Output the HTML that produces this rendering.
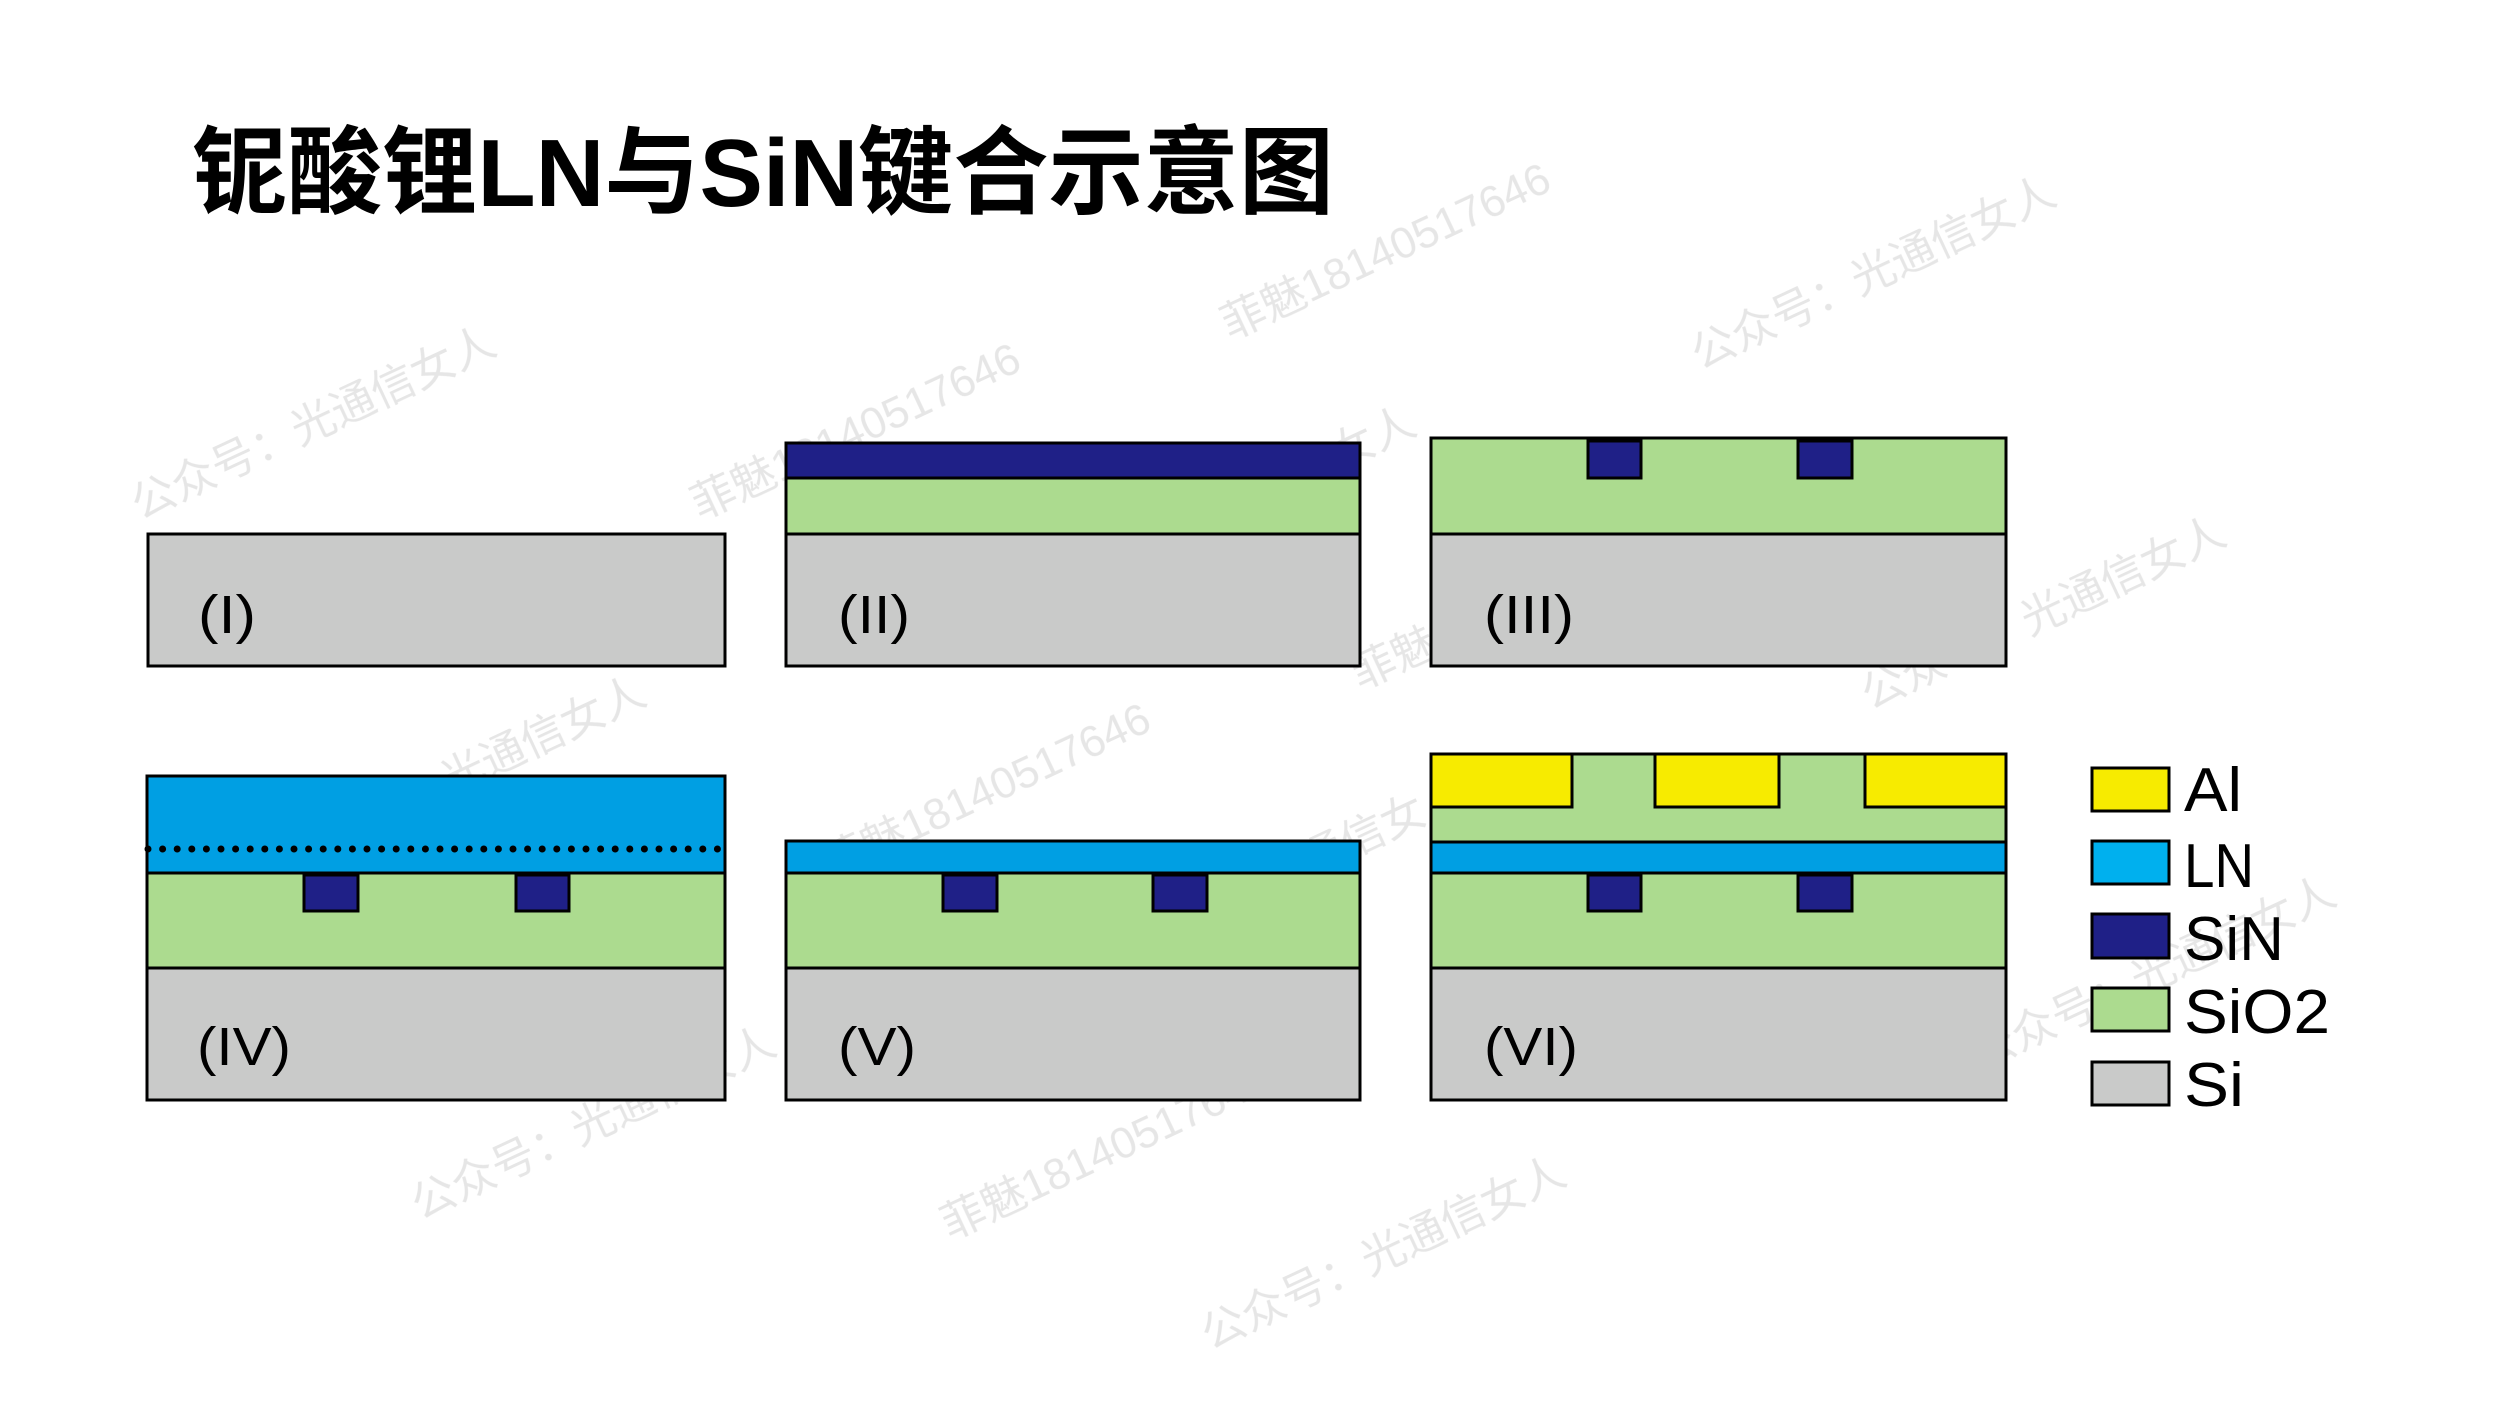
<!DOCTYPE html>
<html><head><meta charset="utf-8"><style>html,body{margin:0;padding:0;background:#fff}svg{display:block}</style></head>
<body>
<svg width="2500" height="1406" viewBox="0 0 2500 1406" xmlns="http://www.w3.org/2000/svg">
<g font-family="Liberation Sans, Noto Sans CJK SC, sans-serif" fill="#c8c8c8" opacity="0.45" font-size="44">
<text transform="translate(140,520) rotate(-25)">公众号：光通信女人</text>
<text transform="translate(700,520) rotate(-25)">菲魅18140517646</text>
<text transform="translate(1230,340) rotate(-25)">菲魅18140517646</text>
<text transform="translate(1700,370) rotate(-25)">公众号：光通信女人</text>
<text transform="translate(1060,600) rotate(-25)">公众号：光通信女人</text>
<text transform="translate(1360,690) rotate(-25)">菲魅18140517646</text>
<text transform="translate(1870,710) rotate(-25)">公众号：光通信女人</text>
<text transform="translate(290,870) rotate(-25)">公众号：光通信女人</text>
<text transform="translate(830,880) rotate(-25)">菲魅18140517646</text>
<text transform="translate(1110,970) rotate(-25)">公众号：光通信女人</text>
<text transform="translate(1480,1050) rotate(-25)">菲魅18140517646</text>
<text transform="translate(1980,1070) rotate(-25)">公众号：光通信女人</text>
<text transform="translate(420,1220) rotate(-25)">公众号：光通信女人</text>
<text transform="translate(950,1240) rotate(-25)">菲魅18140517646</text>
<text transform="translate(1210,1350) rotate(-25)">公众号：光通信女人</text>
</g>
<text x="192" y="206" font-family="Liberation Sans, Noto Sans CJK SC, sans-serif" font-weight="bold" font-size="96" textLength="1142" lengthAdjust="spacingAndGlyphs">铌酸锂LN与SiN键合示意图</text>
<g stroke="#000" stroke-width="3">
<rect x="148" y="534" width="577" height="132" fill="#c9cac9"/>
<rect x="786" y="478" width="574" height="56" fill="#acdb8f"/>
<rect x="786" y="534" width="574" height="132" fill="#c9cac9"/>
<rect x="786" y="443" width="574" height="35" fill="#1f2087"/>
<rect x="1431" y="438" width="575" height="96" fill="#acdb8f"/>
<rect x="1431" y="534" width="575" height="132" fill="#c9cac9"/>
<rect x="1588" y="441" width="53" height="37" fill="#1f2087"/>
<rect x="1798" y="441" width="54" height="37" fill="#1f2087"/>
<rect x="147" y="776" width="578" height="97" fill="#009fe3"/>
<rect x="147" y="873" width="578" height="95" fill="#acdb8f"/>
<rect x="147" y="968" width="578" height="132" fill="#c9cac9"/>
<rect x="304" y="875" width="54" height="36" fill="#1f2087"/>
<rect x="516" y="875" width="53" height="36" fill="#1f2087"/>
<rect x="786" y="841" width="574" height="32" fill="#009fe3"/>
<rect x="786" y="873" width="574" height="95" fill="#acdb8f"/>
<rect x="786" y="968" width="574" height="132" fill="#c9cac9"/>
<rect x="943" y="875" width="54" height="36" fill="#1f2087"/>
<rect x="1153" y="875" width="54" height="36" fill="#1f2087"/>
<rect x="1431" y="754" width="575" height="88" fill="#acdb8f"/>
<rect x="1431" y="842" width="575" height="31" fill="#009fe3"/>
<rect x="1431" y="873" width="575" height="95" fill="#acdb8f"/>
<rect x="1431" y="968" width="575" height="132" fill="#c9cac9"/>
<rect x="1588" y="875" width="53" height="36" fill="#1f2087"/>
<rect x="1798" y="875" width="54" height="36" fill="#1f2087"/>
<rect x="1431" y="754" width="141" height="53" fill="#f7eb00"/>
<rect x="1655" y="754" width="124" height="53" fill="#f7eb00"/>
<rect x="1865" y="754" width="141" height="53" fill="#f7eb00"/>
<rect x="2092" y="768" width="77" height="43" fill="#f7eb00"/>
<rect x="2092" y="841" width="77" height="43" fill="#00b0ee"/>
<rect x="2092" y="914" width="77" height="44" fill="#1f2087"/>
<rect x="2092" y="988" width="77" height="43" fill="#acdb8f"/>
<rect x="2092" y="1062" width="77" height="43" fill="#c9cac9"/>
</g>
<line x1="148" y1="849" x2="728" y2="849" stroke="#000" stroke-width="7" stroke-linecap="round" stroke-dasharray="0 14.6"/>
<g font-family="Liberation Sans, sans-serif" font-size="54" fill="#000">
<text x="198" y="633" textLength="58" lengthAdjust="spacingAndGlyphs">(I)</text>
<text x="838" y="633" textLength="72" lengthAdjust="spacingAndGlyphs">(II)</text>
<text x="1484" y="633" textLength="90" lengthAdjust="spacingAndGlyphs">(III)</text>
<text x="197" y="1065" textLength="94" lengthAdjust="spacingAndGlyphs">(IV)</text>
<text x="838" y="1065" textLength="78" lengthAdjust="spacingAndGlyphs">(V)</text>
<text x="1484" y="1065" textLength="94" lengthAdjust="spacingAndGlyphs">(VI)</text>
</g>
<g font-family="Liberation Sans, sans-serif" font-size="62" fill="#000">
<text x="2184" y="811" textLength="58" lengthAdjust="spacingAndGlyphs">Al</text>
<text x="2184" y="887" textLength="70" lengthAdjust="spacingAndGlyphs">LN</text>
<text x="2184" y="960" textLength="100" lengthAdjust="spacingAndGlyphs">SiN</text>
<text x="2184" y="1033" textLength="146" lengthAdjust="spacingAndGlyphs">SiO2</text>
<text x="2184" y="1106" textLength="60" lengthAdjust="spacingAndGlyphs">Si</text>
</g>
</svg>
</body></html>
